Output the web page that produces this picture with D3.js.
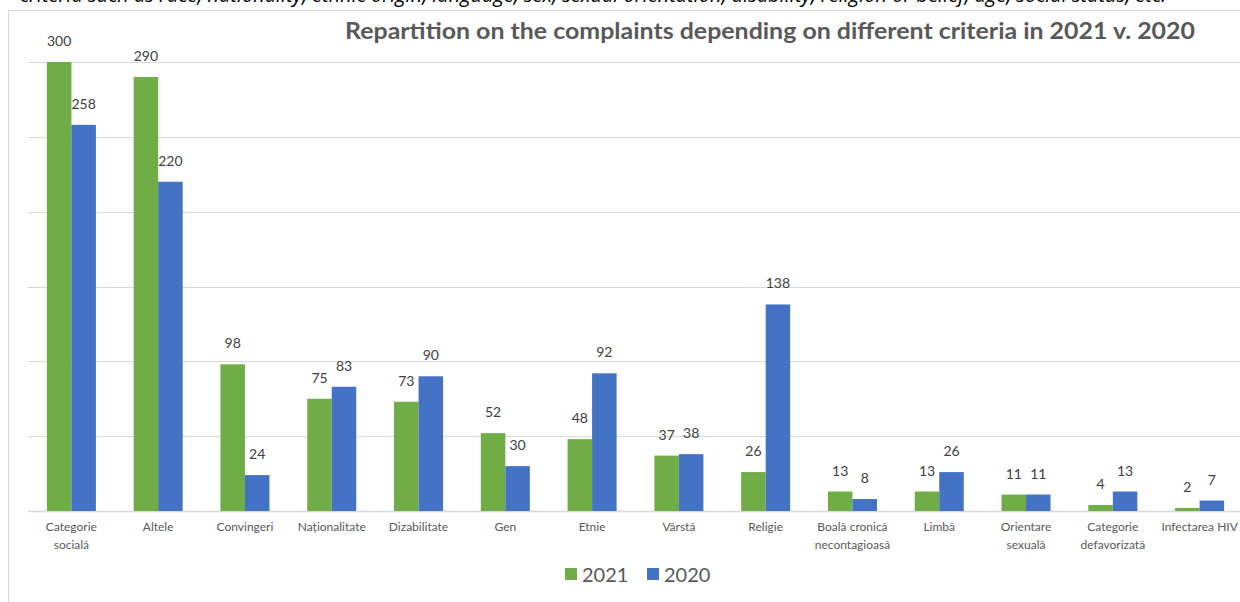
<!DOCTYPE html>
<html>
<head>
<meta charset="utf-8">
<script src="https://cdn.jsdelivr.net/npm/d3@7"></script>
<style>
  body { margin: 0; background: #fff; }
  svg { display: block; font-family: Lato, "Open Sans", sans-serif; }
</style>
</head>
<body>
<div id="chart"></div>
<script>
// data
var categories = ["Categorie socială", "Altele", "Convingeri", "Naționalitate", "Dizabilitate", "Gen", "Etnie",
  "Vârstă", "Religie", "Boală cronică necontagioasă", "Limbă", "Orientare sexuală", "Categorie defavorizată", "Infectarea HIV"];
var values2021 = [300, 290, 98, 75, 73, 52, 48, 37, 26, 13, 13, 11, 4, 2];
var values2020 = [258, 220, 24, 83, 90, 30, 92, 38, 138, 8, 26, 11, 13, 7];
var seriesNames = ["2021", "2020"];
var yTicks = [0, 50, 100, 150, 200, 250, 300];

// category labels are wrapped on two lines like in the original
var labelLines = {
  "Categorie socială": ["Categorie", "socială"],
  "Boală cronică necontagioasă": ["Boală cronică", "necontagioasă"],
  "Orientare sexuală": ["Orientare", "sexuală"],
  "Categorie defavorizată": ["Categorie", "defavorizată"]
};

function init() {
  var w = 1240;
  var h = 602;
  var colors = ["#70ad47", "#4472c4"];

  var svg = d3.select("#chart")
      .append("svg")
      .attr("width", w)
      .attr("height", h);

  // line of the document text above the chart, cut by the page top
  svg.append("text")
      .attr("x", 20)
      .attr("y", 2)
      .style("font-family", "'Open Sans', sans-serif")
      .style("font-style", "italic")
      .style("font-size", "20px")
      .style("fill", "#000")
      .text("criteria such as race, nationality, ethnic origin, language, sex, sexual orientation, disability, religion or belief, age, social status, etc.");

  // chart frame
  svg.append("rect")
      .attr("x", 8.5)
      .attr("y", 10.5)
      .attr("width", w + 10)
      .attr("height", h + 10)
      .attr("fill", "#fff")
      .attr("stroke", "#d9d9d9");

  var x = d3.scaleBand()
      .domain(categories)
      .range([28, 1243]);

  var y = d3.scaleLinear()
      .domain([0, 300])
      .range([511, 62]);

  var barW = 24.5;

  // gridlines
  svg.append("g")
    .selectAll("line")
    .data(yTicks)
    .enter()
    .append("line")
      .attr("x1", 28)
      .attr("x2", w)
      .attr("y1", function(d) { return Math.round(y(d)) + 0.5; })
      .attr("y2", function(d) { return Math.round(y(d)) + 0.5; })
      .attr("stroke", "#d9d9d9")
      .attr("stroke-width", function(d) { return d === 0 ? 1.5 : 1; });

  var series = [values2021, values2020];

  series.forEach(function(vals, s) {
    var g = svg.append("g");
    g.selectAll("rect")
      .data(vals)
      .enter()
      .append("rect")
        .attr("x", function(d, i) { return x(categories[i]) + x.bandwidth() / 2 - barW + s * barW; })
        .attr("y", function(d) { return y(d); })
        .attr("width", barW)
        .attr("height", function(d) { return y(0) - y(d); })
        .attr("fill", colors[s]);

    g.selectAll("text")
      .data(vals)
      .enter()
      .append("text")
        .attr("x", function(d, i) { return x(categories[i]) + x.bandwidth() / 2 - barW / 2 + s * barW; })
        .attr("y", function(d) { return y(d) - 16; })
        .attr("text-anchor", "middle")
        .style("font-size", "14px")
        .style("fill", "#404040")
        .text(function(d) { return d; });
  });

  // category labels
  var cat = svg.append("g")
    .selectAll("text")
    .data(categories)
    .enter()
    .append("text")
      .attr("x", function(d) { return x(d) + x.bandwidth() / 2; })
      .attr("y", 531)
      .attr("text-anchor", "middle")
      .style("font-size", "12px")
      .style("fill", "#595959");

  cat.each(function(d) {
    var lines = labelLines[d] || [d];
    var t = d3.select(this);
    lines.forEach(function(l, i) {
      t.append("tspan")
        .attr("x", x(d) + x.bandwidth() / 2)
        .attr("dy", i === 0 ? 0 : 18)
        .text(l);
    });
  });

  // title
  svg.append("text")
      .attr("x", 770)
      .attr("y", 39)
      .attr("text-anchor", "middle")
      .attr("textLength", 850)
      .attr("lengthAdjust", "spacingAndGlyphs")
      .style("font-size", "22px")
      .style("font-weight", "bold")
      .style("fill", "#595959")
      .text("Repartition on the complaints depending on different criteria in 2021 v. 2020");

  // legend
  var legend = svg.append("g");
  var lx = [565, 647];
  seriesNames.forEach(function(name, i) {
    legend.append("rect")
        .attr("x", lx[i])
        .attr("y", 568)
        .attr("width", 12)
        .attr("height", 12)
        .attr("fill", colors[i]);
    legend.append("text")
        .attr("x", lx[i] + 17)
        .attr("y", 582)
        .style("font-size", "20px")
        .style("fill", "#595959")
        .text(name);
  });
}

window.onload = init;
</script>
</body>
</html>
